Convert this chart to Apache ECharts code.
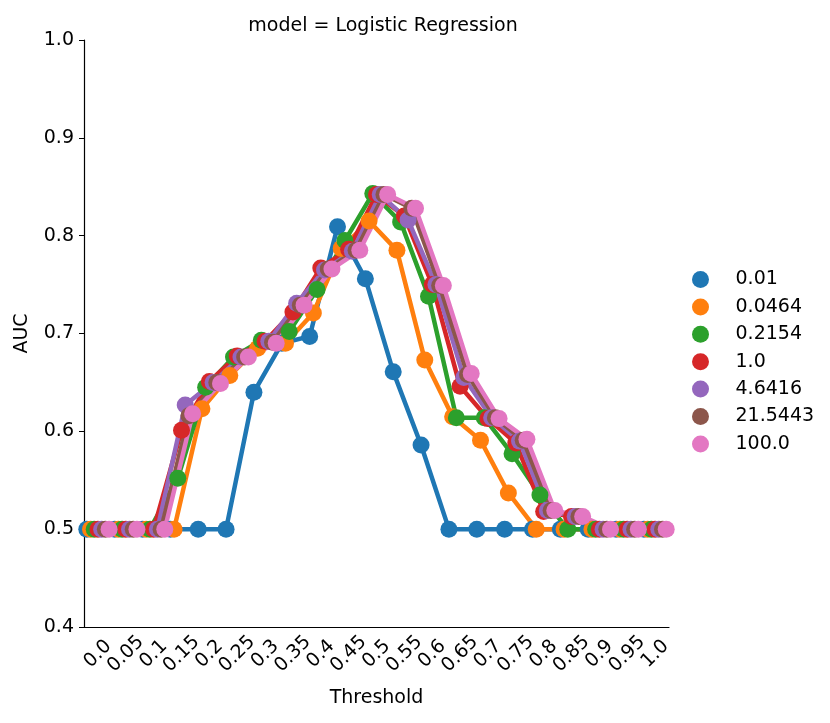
<!DOCTYPE html>
<html>
<head>
<meta charset="utf-8">
<script src="https://cdn.jsdelivr.net/npm/echarts@6/dist/echarts.min.js"></script>
<style>
  html, body { margin: 0; padding: 0; background: #fff; }
  #chart { width: 830px; height: 723px; }
</style>
</head>
<body>
<div id="chart"></div>
<script>
var thresholds = ['0.0', '0.05', '0.1', '0.15', '0.2', '0.25', '0.3', '0.35', '0.4', '0.45', '0.5',
                  '0.55', '0.6', '0.65', '0.7', '0.75', '0.8', '0.85', '0.9', '0.95', '1.0'];
var cNames = ['0.01', '0.0464', '0.2154', '1.0', '4.6416', '21.5443', '100.0'];
var colors = ['#1f77b4', '#ff7f0e', '#2ca02c', '#d62728', '#9467bd', '#8c564b', '#e377c2'];

var auc_001 = [0.5, 0.5, 0.5, 0.5, 0.5, 0.5, 0.640, 0.690, 0.697, 0.809, 0.756,
               0.661, 0.586, 0.5, 0.5, 0.5, 0.5, 0.5, 0.5, 0.5, 0.5];
var auc_00464 = [0.5, 0.5, 0.5, 0.5, 0.623, 0.657, 0.685, 0.690, 0.721, 0.787, 0.815,
                 0.785, 0.673, 0.615, 0.591, 0.537, 0.5, 0.5, 0.5, 0.5, 0.5];
var auc_02154 = [0.5, 0.5, 0.5, 0.552, 0.645, 0.676, 0.693, 0.702, 0.745, 0.795, 0.843,
                 0.814, 0.738, 0.614, 0.614, 0.577, 0.535, 0.5, 0.5, 0.5, 0.5];
var auc_1 = [0.5, 0.5, 0.5, 0.601, 0.651, 0.677, 0.692, 0.722, 0.767, 0.786, 0.842,
             0.820, 0.750, 0.646, 0.613, 0.588, 0.518, 0.513, 0.5, 0.5, 0.5];
var auc_46416 = [0.5, 0.5, 0.5, 0.627, 0.650, 0.676, 0.692, 0.731, 0.765, 0.784, 0.842,
                 0.816, 0.750, 0.655, 0.614, 0.590, 0.519, 0.513, 0.5, 0.5, 0.5];
var auc_215443 = [0.5, 0.5, 0.5, 0.616, 0.650, 0.676, 0.691, 0.729, 0.766, 0.785, 0.842,
                  0.828, 0.749, 0.658, 0.614, 0.591, 0.519, 0.513, 0.5, 0.5, 0.5];
var auc_100 = [0.5, 0.5, 0.5, 0.618, 0.649, 0.676, 0.690, 0.729, 0.766, 0.785, 0.842,
               0.828, 0.749, 0.659, 0.613, 0.592, 0.519, 0.513, 0.5, 0.5, 0.5];

var allAuc = [auc_001, auc_00464, auc_02154, auc_1, auc_46416, auc_215443, auc_100];

// seaborn-style dodge: hues spread across 0.8 of a category
var dodge = 0.8;
var font = 'DejaVu Sans';

var series = allAuc.map(function (vals, i) {
    var off = -dodge / 2 + i * dodge / (allAuc.length - 1);
    return {
        name: cNames[i],
        type: 'line',
        xAxisIndex: 1,
        data: vals.map(function (v, k) { return [k + off, v]; }),
        symbol: 'circle',
        symbolSize: 17,
        lineStyle: { width: 4.5, color: colors[i] },
        itemStyle: { color: colors[i] },
        emphasis: { disabled: true }
    };
});

var myChart = echarts.init(document.getElementById('chart'));
var option = {
    animation: false,
    textStyle: { fontFamily: font },
    title: {
        text: 'model = Logistic Regression',
        left: 378,
        textAlign: 'center',
        top: 12,
        textStyle: { fontFamily: font, fontSize: 19, fontWeight: 'normal', color: '#000' }
    },
    legend: {
        orient: 'vertical',
        left: 687,
        top: 265,
        itemWidth: 60,
        itemHeight: 17,
        itemGap: 8.4,
        icon: 'circle',
        data: cNames,
        textStyle: { fontFamily: font, fontSize: 19, color: '#000' }
    },
    grid: { left: 84, right: 161, top: 40, bottom: 96 },
    xAxis: [{
        type: 'category',
        data: thresholds,
        boundaryGap: true,
        name: 'Threshold',
        nameLocation: 'middle',
        nameGap: 62,
        nameTextStyle: { fontFamily: font, fontSize: 19, color: '#000' },
        axisLine: { lineStyle: { color: '#000', width: 1.2 } },
        axisTick: { alignWithLabel: true, interval: 0, length: 5, lineStyle: { color: '#000' } },
        axisLabel: {
            interval: 0, rotate: 45, align: 'center', verticalAlign: 'middle', margin: 27,
            fontFamily: font, fontSize: 19, color: '#000'
        },
        splitLine: { show: false }
    }, {
        type: 'value',
        min: -0.5,
        max: thresholds.length - 0.5,
        show: false
    }],
    yAxis: {
        type: 'value',
        min: 0.4,
        max: 1.0,
        interval: 0.1,
        name: 'AUC',
        nameLocation: 'middle',
        nameGap: 52,
        nameTextStyle: { fontFamily: font, fontSize: 19, color: '#000' },
        axisLine: { show: true, onZero: false, lineStyle: { color: '#000', width: 1.2 } },
        axisTick: { show: true, length: 5, lineStyle: { color: '#000' } },
        axisLabel: {
            margin: 10, fontFamily: font, fontSize: 19, color: '#000',
            formatter: function (v) { return v.toFixed(1); }
        },
        splitLine: { show: false }
    },
    series: series
};

if (option && typeof option === "object") {
    myChart.setOption(option, true);
}
</script>
</body>
</html>
